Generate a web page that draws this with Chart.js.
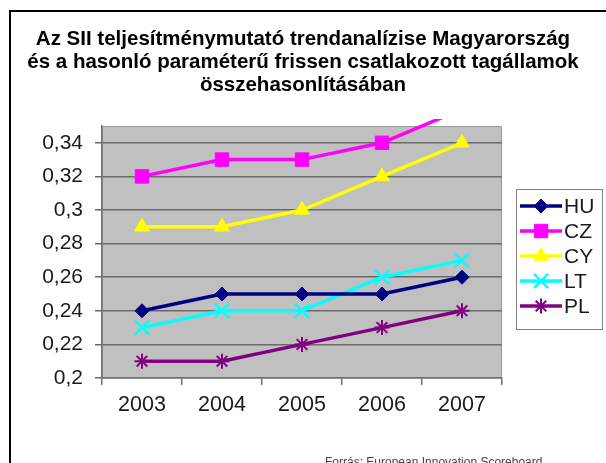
<!DOCTYPE html>
<html>
<head>
<meta charset="utf-8">
<script src="https://cdn.jsdelivr.net/npm/chart.js@4/dist/chart.umd.min.js"></script>
<style>
  html, body { margin: 0; padding: 0; background: #ffffff; }
  #wrap { width: 606px; height: 463px; position: relative; }
</style>
</head>
<body>
<div id="wrap"><canvas id="c" width="606" height="463"></canvas></div>
<script>
// ---- data ----
const years = ['2003', '2004', '2005', '2006', '2007'];
const seriesNames = ['HU', 'CZ', 'CY', 'LT', 'PL'];
const hu = [0.24, 0.25, 0.25, 0.25, 0.26];
const cz = [0.32, 0.33, 0.33, 0.34, 0.36];
const cy = [0.29, 0.29, 0.30, 0.32, 0.34];
const lt = [0.23, 0.24, 0.24, 0.26, 0.27];
const pl = [0.21, 0.21, 0.22, 0.23, 0.24];
const yMin = 0.2, yMax = 0.35, yStep = 0.02;
const titleLines = [
  'Az SII teljesítménymutató trendanalízise Magyarország',
  'és a hasonló paraméterű frissen csatlakozott tagállamok',
  'összehasonlításában'
];
const sourceText = 'Forrás: European Innovation Scoreboard';

// ---- styles ----
const FONT = '"Liberation Sans", Arial, sans-serif';
const styles = [
  { color: '#000080', pointStyle: 'rectRot', radius: 7, bw: 1 },
  { color: '#ff00ff', pointStyle: 'rect', radius: 9.5, bw: 1 },
  { color: '#ffff00', pointStyle: 'triangle', radius: 8.5, bw: 1 },
  { color: '#00ffff', pointStyle: 'crossRot', radius: 10, bw: 2.5 },
  { color: '#800080', pointStyle: 'star', radius: 7.5, bw: 2 }
];
const values = [hu, cz, cy, lt, pl];

const datasets = values.map((v, i) => ({
  label: seriesNames[i],
  data: v,
  borderColor: styles[i].color,
  backgroundColor: styles[i].color,
  pointBackgroundColor: styles[i].color,
  pointBorderColor: styles[i].color,
  pointStyle: styles[i].pointStyle,
  pointRadius: styles[i].radius,
  pointHoverRadius: styles[i].radius,
  pointBorderWidth: styles[i].bw,
  borderWidth: 3.5,
  tension: 0,
  clip: { left: 10, top: 7, right: 10, bottom: 10 }
}));

const decor = {
  id: 'decor',
  beforeDraw(chart) {
    const ctx = chart.ctx;
    const a = chart.chartArea;
    ctx.save();
    ctx.fillStyle = '#ffffff';
    ctx.fillRect(0, 0, chart.width, chart.height);
    // outer frame
    ctx.strokeStyle = '#000000';
    ctx.lineWidth = 2;
    ctx.strokeRect(10, 11, 700, 600);
    // plot background
    ctx.fillStyle = '#c0c0c0';
    ctx.fillRect(a.left, a.top, a.right - a.left, a.bottom - a.top);
    ctx.strokeStyle = '#9a9a9a';
    ctx.lineWidth = 1;
    ctx.strokeRect(a.left + 0.5, a.top + 0.5, a.right - a.left - 1, a.bottom - a.top - 1);
    ctx.restore();
  },
  afterDatasetsDraw(chart) {
    const ctx = chart.ctx;
    ctx.save();
    // title
    ctx.fillStyle = '#000000';
    ctx.font = 'bold 20.5px ' + FONT;
    ctx.textAlign = 'center';
    ctx.textBaseline = 'middle';
    const ty = [39.5, 62.5, 85.5];
    titleLines.forEach((t, i) => ctx.fillText(t, 303, ty[i]));
    // source
    ctx.fillStyle = '#444444';
    ctx.font = '12px ' + FONT;
    ctx.textAlign = 'left';
    ctx.textBaseline = 'top';
    ctx.fillText(sourceText, 325, 457);
    // legend
    const lx = 516, ly = 189, lw = 86, lh = 140;
    ctx.fillStyle = '#ffffff';
    ctx.fillRect(lx, ly, lw, lh);
    ctx.strokeStyle = '#808080';
    ctx.lineWidth = 1;
    ctx.strokeRect(lx + 0.5, ly + 0.5, lw, lh);
    chart.data.datasets.forEach((ds, i) => {
      const y = 206 + i * 25;
      ctx.strokeStyle = ds.borderColor;
      ctx.lineWidth = 3.5;
      ctx.beginPath();
      ctx.moveTo(520, y);
      ctx.lineTo(562, y);
      ctx.stroke();
      ctx.fillStyle = ds.borderColor;
      ctx.lineWidth = styles[i].bw;
      Chart.helpers.drawPoint(ctx, {
        pointStyle: styles[i].pointStyle,
        radius: styles[i].radius,
        borderWidth: styles[i].bw,
        rotation: 0
      }, 541, y);
      ctx.fillStyle = '#1a1a1a';
      ctx.font = '21px ' + FONT;
      ctx.textAlign = 'left';
      ctx.textBaseline = 'middle';
      ctx.fillText(ds.label, 564, y + 1);
    });
    ctx.restore();
  }
};

new Chart(document.getElementById('c'), {
  type: 'line',
  data: { labels: years, datasets },
  options: {
    responsive: false,
    animation: false,
    events: [],
    layout: { padding: { left: 0, right: 104, top: 126, bottom: 0 } },
    plugins: {
      legend: { display: false },
      title: { display: false },
      tooltip: { enabled: false }
    },
    scales: {
      x: {
        offset: true,
        grid: {
          offset: true,
          drawOnChartArea: false,
          drawTicks: true,
          tickLength: 7,
          color: '#707070',
          lineWidth: 1.5
        },
        border: { display: true, color: '#707070', width: 1.5 },
        ticks: {
          color: '#1a1a1a',
          font: { family: FONT, size: 21.5 },
          padding: 7,
          maxRotation: 0
        },
        afterFit(scale) { scale.height = 85; }
      },
      y: {
        min: yMin,
        max: yMax,
        grid: {
          color: '#6a6a6a',
          lineWidth: 1.5,
          tickLength: 7,
          drawTicks: true
        },
        border: { display: true, color: '#707070', width: 1.5 },
        ticks: {
          stepSize: yStep,
          includeBounds: false,
          color: '#1a1a1a',
          font: { family: FONT, size: 21 },
          padding: 12,
          callback: (v) => String(Math.round(v * 100) / 100).replace('.', ',')
        },
        afterFit(scale) { scale.width = 102; }
      }
    }
  },
  plugins: [decor]
});
</script>
</body>
</html>
